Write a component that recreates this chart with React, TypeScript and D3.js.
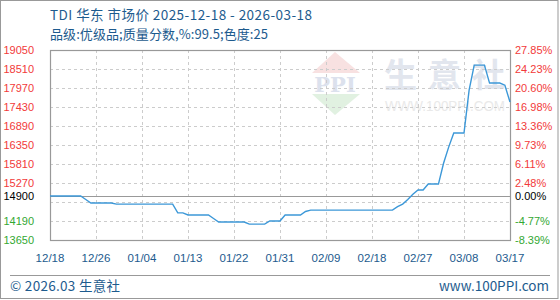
import React from "react";
import * as d3 from "d3";

// ---- data ----
const title = "TDI 华东 市场价 2025-12-18 - 2026-03-18";
const subtitle = "品级:优级品;质量分数,%:99.5;色度:25";
const xTickLabels = ["12/18", "12/26", "01/04", "01/13", "01/22", "01/31", "02/09", "02/18", "02/27", "03/08", "03/17"];
const xTickIndex = [0, 9, 18, 27, 36, 45, 54, 63, 72, 81, 90];
const gridValues = [19050, 18510, 17970, 17430, 16890, 16350, 15810, 15270, 14730, 14190, 13650];
const leftLabels = [19050, 18510, 17970, 17430, 16890, 16350, 15810, 15270, 14900, 14190, 13650];
const rightLabels = ["27.85%", "24.23%", "20.60%", "16.98%", "13.36%", "9.73%", "6.11%", "2.48%", "0.00%", "-4.77%", "-8.39%"];
const baseValue = 14900;
// daily prices (index 0 = 2025-12-18)
const prices = [
  14900, 14900, 14900, 14900, 14900, 14900, 14900,
  14800,
  14700, 14700, 14700, 14700, 14700,
  14670, 14670, 14670, 14670, 14670, 14670, 14670, 14670, 14670, 14670, 14670, 14670,
  14420, 14420,
  14360, 14360, 14360, 14360, 14360,
  14260,
  14160, 14160, 14160, 14160, 14160, 14160,
  14100, 14100, 14100, 14100,
  14190, 14190, 14190,
  14360, 14360, 14360, 14360,
  14460,
  14500, 14500, 14500, 14500, 14500, 14500, 14500, 14500, 14500, 14500, 14500, 14500, 14500, 14500, 14500, 14500, 14500,
  14600,
  14670,
  14800,
  14950,
  15070, 15070,
  15240, 15240, 15240,
  15830,
  16290,
  16690, 16690, 16690,
  17910,
  18620, 18620, 18620,
  18110, 18110, 18110,
  18050,
  17570,
];

const W = 560;
const H = 300;
const M = { left: 50, right: 510, top: 50, bottom: 240 };

export default function App() {
  const x = d3.scaleLinear().domain([0, 90]).range([M.left, M.right]);
  const y = d3.scaleLinear().domain([13650, 19050]).range([M.bottom, M.top]);
  const line = d3
    .line<number>()
    .x((_, i) => x(i))
    .y((d) => y(d));

  const numFont = "'Liberation Sans', Arial, sans-serif";
  const cjkFont = "'Noto Sans CJK SC', 'Noto Sans', sans-serif";
  const blue = "#1d5b8e";
  const colorFor = (v: number) => (v > baseValue ? "#f23a3a" : v < baseValue ? "#33a833" : "#000");

  return (
    <svg width={W} height={H} style={{ position: "absolute", left: 0, top: 0, background: "#fff" }}>
      <rect x={0} y={0} width={W} height={H} fill="#fff" />
      <rect x={0.5} y={0.5} width={557.5} height={298} fill="none" stroke="#999" />

      {/* watermark */}
      <g opacity={0.85}>
        <polygon points="335,52 312,73 360,73" fill="#f7dcdc" />
        <text x={335} y={92} textAnchor="middle" fontFamily="'DejaVu Serif', serif" fontWeight="bold" fontSize={21} fill="#d6dcea">PPI</text>
        <polygon points="312,94 360,94 335,115" fill="#dcefdc" />
        <text x={384} y={87} fontFamily={cjkFont} fontWeight="bold" fontSize={33} fill="#dde2ec" textLength={121} lengthAdjust="spacing">生意社</text>
        <text x={385} y={111} fontFamily={numFont} fontSize={14} fill="#e6e6e6" textLength={120} lengthAdjust="spacingAndGlyphs">WWW.100PPI.COM</text>
      </g>

      {/* gridlines */}
      {gridValues.map((v) => (
        <line key={"g" + v} x1={M.left} x2={M.right} y1={Math.round(y(v)) + 0.5} y2={Math.round(y(v)) + 0.5} stroke="#ccc" strokeDasharray="3,3" />
      ))}
      {xTickIndex.map((t) => (
        <line key={"v" + t} x1={Math.round(x(t)) + 0.5} x2={Math.round(x(t)) + 0.5} y1={M.top} y2={M.bottom} stroke="#ccc" strokeDasharray="3,3" />
      ))}
      <line x1={M.left} x2={M.right} y1={Math.round(y(baseValue)) + 0.5} y2={Math.round(y(baseValue)) + 0.5} stroke="#999" strokeWidth={1.2} />

      {/* frame */}
      <rect x={M.left + 0.5} y={M.top + 0.5} width={M.right - M.left} height={M.bottom - M.top} fill="none" stroke="#999" strokeWidth={1.2} />

      {/* line */}
      <path d={line(prices) || ""} fill="none" stroke="#3c98d8" strokeWidth={1.4} />

      {/* left labels */}
      {leftLabels.map((v) => (
        <text key={"l" + v} x={34} y={y(v)} dy="0.35em" textAnchor="end" fontFamily={numFont} fontSize={11} fill={colorFor(v)}>
          {v}
        </text>
      ))}
      {/* right labels */}
      {rightLabels.map((s, i) => (
        <text key={"r" + s} x={515} y={y(leftLabels[i])} dy="0.35em" textAnchor="start" fontFamily={numFont} fontSize={11} fill={colorFor(leftLabels[i])}>
          {s}
        </text>
      ))}
      {/* x labels */}
      {xTickLabels.map((s, i) => (
        <text key={"x" + s} x={x(xTickIndex[i])} y={262} textAnchor="middle" fontFamily={numFont} fontSize={11.5} fill={blue}>
          {s}
        </text>
      ))}

      {/* titles */}
      <text x={50} y={20} fontFamily={cjkFont} fontSize={13.5} fill={blue} textLength={262} lengthAdjust="spacing">{title}</text>
      <text x={50} y={39} fontFamily={cjkFont} fontSize={13} fill={blue} textLength={218} lengthAdjust="spacing">{subtitle}</text>

      {/* footer */}
      <line x1={10} x2={550} y1={275.5} y2={275.5} stroke="#999" />
      <text x={10} y={291} fontFamily={cjkFont} fontSize={13.5} fill={blue} textLength={110} lengthAdjust="spacing">© 2026.03 生意社</text>
      <text x={549} y={291} textAnchor="end" fontFamily={cjkFont} fontSize={13.5} fill={blue}>www.100PPI.com</text>
    </svg>
  );
}
